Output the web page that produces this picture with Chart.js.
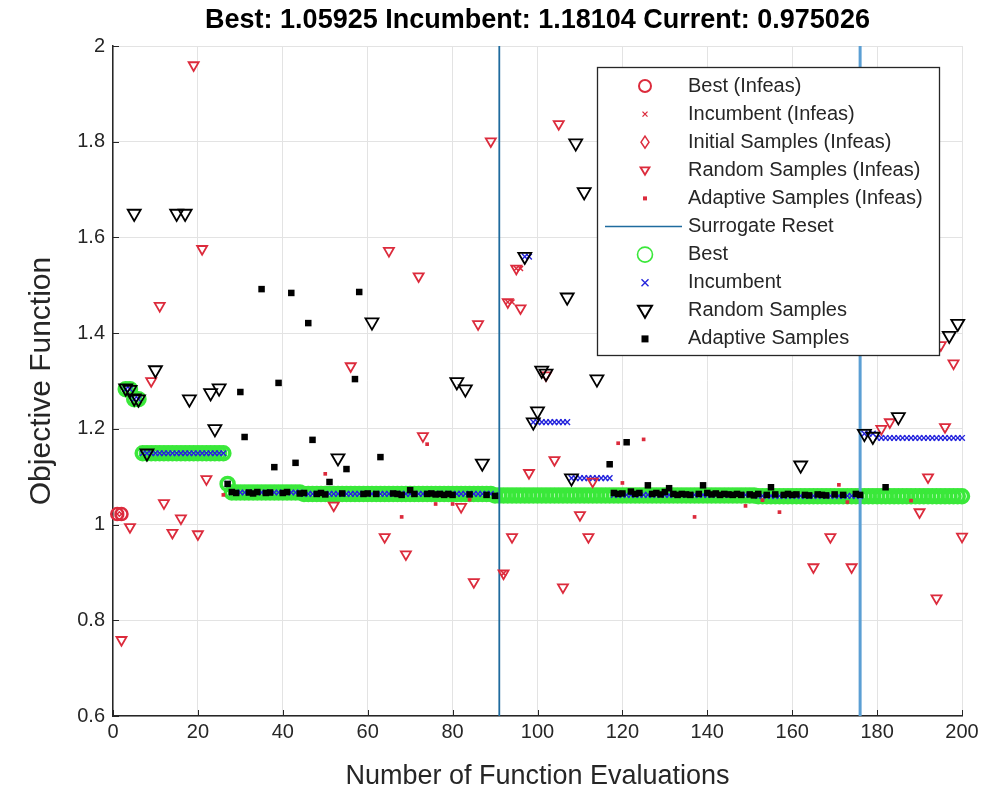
<!DOCTYPE html>
<html><head><meta charset="utf-8">
<script src="https://cdn.jsdelivr.net/npm/chart.js@4.4.1/dist/chart.umd.min.js"></script>
<style>html,body{margin:0;padding:0;background:#fff;}canvas{display:block;}</style>
</head><body>
<canvas id="c" width="1004" height="794"></canvas>
<script>
// ---------- text ----------
const titleText = 'Best: 1.05925 Incumbent: 1.18104 Current: 0.975026';
const xAxisTitle = 'Number of Function Evaluations';
const yAxisTitle = 'Objective Function';
const legendLabels = ['Best (Infeas)','Incumbent (Infeas)','Initial Samples (Infeas)','Random Samples (Infeas)','Adaptive Samples (Infeas)','Surrogate Reset','Best','Incumbent','Random Samples','Adaptive Samples'];

// ---------- data ----------
// Best (feasible): run-length steps of the best-so-far value
const bestRunStart = [3, 5, 7, 27, 28, 45, 90, 152];
const bestRunEnd   = [4, 6, 26, 27, 44, 89, 151, 200];
const bestRunValue = [1.283, 1.262, 1.149, 1.085, 1.067, 1.064, 1.061, 1.05925];

// Incumbent (feasible): run-length steps
const incRunStart = [3, 5, 7, 27, 28, 45, 90, 97, 99, 108, 118, 152, 177, 180];
const incRunEnd   = [4, 6, 26, 27, 44, 89, 90, 98, 107, 117, 151, 176, 179, 200];
const incRunValue = [1.283, 1.262, 1.149, 1.085, 1.067, 1.064, 1.061, 1.56, 1.214, 1.097, 1.062, 1.06, 1.19, 1.181];

// Best (Infeas)
const bestInfX = [1, 2];
const bestInfY = [1.022, 1.022];

// Incumbent (Infeas)
const incInfX = [1, 2, 92, 93, 94, 95, 96];
const incInfY = [1.022, 1.022, 0.898, 1.465, 1.465, 1.535, 1.535];

// Random Samples (Infeas)
const randInfX = [2, 4, 9, 11, 12, 14, 16, 19, 20, 21, 22, 52, 56, 64, 65, 69, 72, 73, 82, 85, 86, 89, 92, 93, 94, 95, 96, 98, 102, 104, 105, 106, 110, 112, 113, 165, 169, 174, 181, 183, 190, 192, 194, 195, 196, 198, 200];
const randInfY = [0.759, 0.995, 1.30, 1.457, 1.045, 0.983, 1.013, 1.96, 0.98, 1.576, 1.095, 1.04, 1.331, 0.974, 1.572, 0.938, 1.519, 1.185, 1.037, 0.88, 1.419, 1.801, 0.898, 1.465, 0.974, 1.535, 1.452, 1.108, 1.312, 1.135, 1.837, 0.869, 1.02, 0.974, 1.09, 0.911, 0.974, 0.911, 1.20, 1.214, 1.026, 1.099, 0.846, 1.375, 1.204, 1.337, 0.975];

// Adaptive Samples (Infeas)
const adaptInfX = [26, 50, 68, 74, 76, 80, 84, 119, 120, 125, 137, 149, 153, 157, 171, 173, 182, 188];
const adaptInfY = [1.062, 1.106, 1.016, 1.168, 1.043, 1.043, 1.052, 1.17, 1.087, 1.178, 1.016, 1.039, 1.051, 1.026, 1.083, 1.047, 1.077, 1.05];

// Random Samples (feasible)
const randX = [3, 4, 5, 6, 5, 15, 17, 8, 10, 18, 23, 24, 25, 53, 61, 81, 83, 87, 97, 99, 100, 101, 102, 107, 108, 109, 111, 114, 162, 177, 179, 185, 197, 199];
const randY = [1.285, 1.282, 1.264, 1.262, 1.65, 1.65, 1.65, 1.149, 1.323, 1.262, 1.275, 1.20, 1.285, 1.139, 1.423, 1.298, 1.283, 1.128, 1.56, 1.214, 1.237, 1.322, 1.316, 1.475, 1.097, 1.797, 1.695, 1.304, 1.124, 1.19, 1.184, 1.225, 1.395, 1.42];

// Adaptive Samples (feasible)
const adaptX = [27, 28, 29, 30, 31, 32, 33, 34, 35, 36, 37, 38, 39, 40, 41, 42, 43, 44, 45, 46, 47, 48, 49, 50, 51, 54, 55, 57, 58, 59, 60, 62, 63, 66, 67, 68, 70, 71, 74, 75, 76, 77, 78, 79, 80, 84, 88, 90,
  117, 118, 119, 120, 121, 122, 123, 124, 126, 127, 128, 129, 130, 131, 132, 133, 134, 135, 136, 138, 139, 140, 141, 142, 143, 144, 145, 146, 147, 148, 150, 151, 152, 154, 155, 156, 158, 159, 160, 161, 163, 164, 166, 167, 168, 170, 172, 175, 176, 182];
const adaptY = [1.085, 1.068, 1.066, 1.277, 1.183, 1.067, 1.065, 1.068, 1.492, 1.066, 1.067, 1.12, 1.296, 1.066, 1.068, 1.484, 1.129, 1.065, 1.066, 1.421, 1.177, 1.064, 1.066, 1.063, 1.089, 1.065, 1.116, 1.304, 1.486, 1.064, 1.065, 1.064, 1.141, 1.065, 1.064, 1.062, 1.072, 1.064, 1.064, 1.065, 1.063, 1.064, 1.062, 1.064, 1.062, 1.063, 1.062, 1.06,
  1.126, 1.066, 1.064, 1.065, 1.172, 1.069, 1.064, 1.066, 1.082, 1.064, 1.066, 1.063, 1.068, 1.076, 1.064, 1.062, 1.064, 1.063, 1.062, 1.064, 1.082, 1.066, 1.063, 1.065, 1.062, 1.064, 1.063, 1.062, 1.064, 1.062, 1.063, 1.061, 1.064, 1.062, 1.078, 1.063, 1.062, 1.064, 1.062, 1.063, 1.062, 1.061, 1.063, 1.062, 1.061, 1.063, 1.062, 1.064, 1.062, 1.078];

// Surrogate resets
const resetX = [91, 176];

// ---------- build ----------
function pairs(xs, ys) { return xs.map((x, i) => ({x: x, y: ys[i]})); }
function runs(starts, ends, vals) {
  const out = [];
  for (let k = 0; k < starts.length; k++) {
    for (let x = starts[k]; x <= ends[k]; x++) out.push({x: x, y: vals[k]});
  }
  return out;
}
const RED = '#dc2b3c', GREEN = '#3ae83a', BLUE = '#2424dc', BLACK = '#000000';
const FONT = '"Liberation Sans", Arial, Helvetica, sans-serif';
Chart.defaults.font.family = FONT;

const datasets = [
  {label:'Adaptive Samples', data: pairs(adaptX, adaptY), pointStyle:'rect', pointRadius:4.6, backgroundColor:BLACK, borderColor:BLACK, borderWidth:0},
  {label:'Random Samples', data: pairs(randX, randY), pointStyle:'triangle', rotation:180, pointRadius:7.5, backgroundColor:'rgba(0,0,0,0)', borderColor:BLACK, borderWidth:1.8},
  {label:'Incumbent (Infeas)', data: pairs(incInfX, incInfY), pointStyle:'crossRot', pointRadius:3.5, borderColor:RED, borderWidth:1.5},
  {label:'Adaptive Samples (Infeas)', data: pairs(adaptInfX, adaptInfY), pointStyle:'rect', pointRadius:2.6, backgroundColor:RED, borderColor:RED, borderWidth:0},
  {label:'Random Samples (Infeas)', data: pairs(randInfX, randInfY), pointStyle:'triangle', rotation:180, pointRadius:5.8, backgroundColor:'rgba(0,0,0,0)', borderColor:RED, borderWidth:1.8},
  {label:'Initial Samples (Infeas)', data: [], pointStyle:'rectRot', pointRadius:5, borderColor:RED},
  {label:'Best (Infeas)', data: pairs(bestInfX, bestInfY), pointStyle:'circle', pointRadius:6, backgroundColor:'rgba(0,0,0,0)', borderColor:RED, borderWidth:2.5},
  {label:'Incumbent', data: runs(incRunStart, incRunEnd, incRunValue), pointStyle:'crossRot', pointRadius:4, borderColor:BLUE, borderWidth:1.4},
  {label:'Surrogate Reset', data: [{x: resetX[0], y: 0.6}, {x: resetX[0], y: 2}], showLine:true, borderColor:'#1f6b9e', borderWidth:1.8, pointRadius:0},
  {label:'Surrogate Reset 2', data: [{x: resetX[1], y: 0.6}, {x: resetX[1], y: 2}], showLine:true, borderColor:'#5b9fd4', borderWidth:3, pointRadius:0},
  {label:'Best', data: runs(bestRunStart, bestRunEnd, bestRunValue), pointStyle:'circle', pointRadius:6.5, backgroundColor:'rgba(0,0,0,0)', borderColor:GREEN, borderWidth:3.5}
];
datasets.forEach(d => { d.clip = false; d.pointHoverRadius = d.pointRadius; });

// legend + inward ticks drawn with the chart
const matlabLegend = {
  id: 'matlabLegend',
  afterDraw(chart) {
    const ctx = chart.ctx;
    const xs = chart.scales.x, ys = chart.scales.y;
    const ca = chart.chartArea;
    ctx.save();
    // inward tick marks
    ctx.strokeStyle = '#262626'; ctx.lineWidth = 1;
    xs.ticks.forEach(t => { const px = Math.round(xs.getPixelForValue(t.value)) + 0.5; ctx.beginPath(); ctx.moveTo(px, ca.bottom); ctx.lineTo(px, ca.bottom - 6); ctx.stroke(); });
    ys.ticks.forEach(t => { const py = Math.round(ys.getPixelForValue(t.value)) + 0.5; ctx.beginPath(); ctx.moveTo(ca.left, py); ctx.lineTo(ca.left + 6, py); ctx.stroke(); });
    // legend box
    const L = 597, T = 67, R = 939, B = 355;
    ctx.fillStyle = '#ffffff'; ctx.fillRect(L, T, R - L, B - T);
    ctx.strokeStyle = '#262626'; ctx.lineWidth = 1.3; ctx.strokeRect(L + 0.5, T + 0.5, R - L, B - T);
    const mx = 645, tx = 688, y0 = 86, dy = 28.1;
    ctx.font = '20px ' + FONT; ctx.fillStyle = '#262626'; ctx.textBaseline = 'middle'; ctx.textAlign = 'left';
    legendLabels.forEach((lab, i) => {
      const y = y0 + i * dy;
      ctx.fillStyle = '#262626';
      ctx.fillText(lab, tx, y);
      ctx.beginPath();
      switch (i) {
        case 0: ctx.strokeStyle = RED; ctx.lineWidth = 2; ctx.arc(mx, y, 6, 0, Math.PI * 2); ctx.stroke(); break;
        case 1: ctx.strokeStyle = RED; ctx.lineWidth = 1.3; ctx.moveTo(mx-2.5, y-2.5); ctx.lineTo(mx+2.5, y+2.5); ctx.moveTo(mx+2.5, y-2.5); ctx.lineTo(mx-2.5, y+2.5); ctx.stroke(); break;
        case 2: ctx.strokeStyle = RED; ctx.lineWidth = 1.5; ctx.moveTo(mx, y-6); ctx.lineTo(mx+4, y); ctx.lineTo(mx, y+6); ctx.lineTo(mx-4, y); ctx.closePath(); ctx.stroke(); break;
        case 3: ctx.strokeStyle = RED; ctx.lineWidth = 1.8; ctx.moveTo(mx-4.5, y-3); ctx.lineTo(mx+4.5, y-3); ctx.lineTo(mx, y+4.5); ctx.closePath(); ctx.stroke(); break;
        case 4: ctx.fillStyle = RED; ctx.fillRect(mx-2, y-2, 4, 4); break;
        case 5: ctx.strokeStyle = '#1f6b9e'; ctx.lineWidth = 1.6; ctx.moveTo(605, y); ctx.lineTo(682, y); ctx.stroke(); break;
        case 6: ctx.strokeStyle = GREEN; ctx.lineWidth = 1.6; ctx.arc(mx, y, 7.5, 0, Math.PI * 2); ctx.stroke(); break;
        case 7: ctx.strokeStyle = BLUE; ctx.lineWidth = 1.4; ctx.moveTo(mx-3.5, y-3.5); ctx.lineTo(mx+3.5, y+3.5); ctx.moveTo(mx+3.5, y-3.5); ctx.lineTo(mx-3.5, y+3.5); ctx.stroke(); break;
        case 8: ctx.strokeStyle = BLACK; ctx.lineWidth = 2; ctx.moveTo(mx-7, y-5); ctx.lineTo(mx+7, y-5); ctx.lineTo(mx, y+7); ctx.closePath(); ctx.stroke(); break;
        case 9: ctx.fillStyle = BLACK; ctx.fillRect(mx-3.5, y-3.5, 7, 7); break;
      }
    });
    ctx.restore();
  }
};

new Chart(document.getElementById('c'), {
  type: 'scatter',
  data: { datasets: datasets },
  options: {
    responsive: false,
    animation: false,
    events: [],
    layout: { padding: { left: 0, right: 42, top: 0, bottom: 0 } },
    plugins: {
      legend: { display: false },
      tooltip: { enabled: false },
      title: { display: true, text: titleText, fullSize: false, color: '#000000',
               font: { size: 27, weight: 'bold', lineHeight: '32px' }, padding: { top: 5, bottom: 9 } }
    },
    scales: {
      x: {
        type: 'linear', min: 0, max: 200,
        ticks: { stepSize: 20, color: '#262626', font: { size: 20 }, padding: 4, maxRotation: 0 },
        grid: { color: '#e3e3e3', drawTicks: false, lineWidth: 1 },
        border: { color: '#262626', width: 1.5 },
        title: { display: true, text: xAxisTitle, color: '#262626', font: { size: 27, lineHeight: '32px' }, padding: { top: 0, bottom: 1 } },
        afterFit(s) { s.height = 78; }
      },
      y: {
        type: 'linear', min: 0.6, max: 2,
        ticks: { stepSize: 0.2, color: '#262626', font: { size: 20 }, padding: 8,
                 callback: v => String(Number(v.toFixed(1))) },
        grid: { color: '#e3e3e3', drawTicks: false, lineWidth: 1 },
        border: { color: '#262626', width: 1.5 },
        title: { display: true, text: yAxisTitle, color: '#262626', font: { size: 30, lineHeight: '34px' }, padding: { top: 25, bottom: 0 } },
        afterFit(s) { s.width = 113; }
      }
    }
  },
  plugins: [matlabLegend]
});
</script>
</body></html>
